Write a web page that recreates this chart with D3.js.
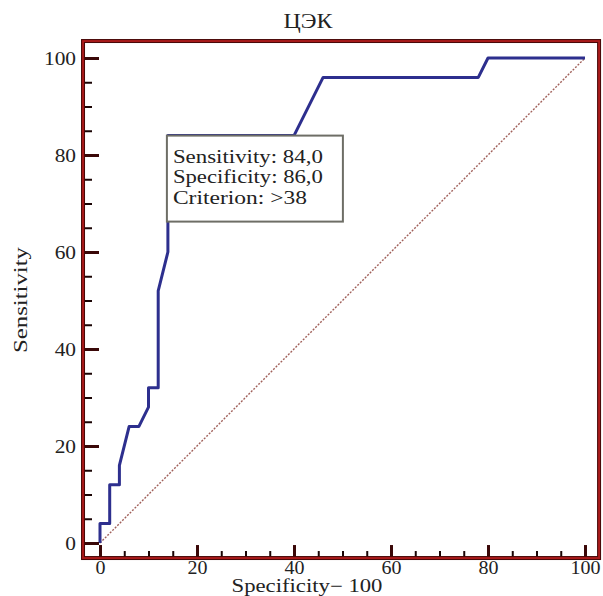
<!DOCTYPE html>
<html>
<head>
<meta charset="utf-8">
<script src="https://cdn.jsdelivr.net/npm/d3@7"></script>
<style>
  body { margin: 0; background: #fff; }
  text { font-family: "Liberation Serif", "Times New Roman", serif; fill: #222; }
</style>
</head>
<body>
<div id="root"></div>
<script>
// ROC curve points: 100 - specificity (x) and sensitivity (y)
const fpr = [0, 0, 2, 2, 4, 4, 6, 8, 10, 10, 12, 12, 14, 14, 40, 46, 78, 80, 100];
const tpr = [0, 4, 4, 12, 12, 16, 24, 24, 28, 32, 32, 52, 60, 84, 84, 96, 96, 100, 100];

const majorTicks = [0, 20, 40, 60, 80, 100];
const minorTicks = [5, 10, 15, 25, 30, 35, 45, 50, 55, 65, 70, 75, 85, 90, 95];

const title = 'ЦЭК';
const xTitle = 'Specificity\u2212 100';
const yTitle = 'Sensitivity';

// optimal cut-off point shown in the info box
const cutoff = { fpr: 14, tpr: 84 };
const boxLines = ['Sensitivity: 84,0', 'Specificity: 86,0', 'Criterion: >38'];

const width = 603, height = 596;

const svg = d3.select('#root').append('svg')
  .attr('width', width)
  .attr('height', height);

const x = d3.scaleLinear().domain([0, 100]).range([100, 585]);
const y = d3.scaleLinear().domain([0, 100]).range([543, 58]);

const frameLeft = x(-3.5), frameRight = x(102.9), frameTop = y(103.5), frameBottom = y(-3.1);

// diagonal reference line
svg.append('line')
  .attr('x1', x(0)).attr('y1', y(0))
  .attr('x2', x(100)).attr('y2', y(100))
  .attr('stroke', '#a0605a')
  .attr('stroke-width', 1.4)
  .attr('stroke-dasharray', '2,1.5');

// ROC curve
const line = d3.line()
  .x((d, i) => x(fpr[i]))
  .y((d, i) => y(tpr[i]));

svg.append('path')
  .datum(fpr)
  .attr('d', line)
  .attr('fill', 'none')
  .attr('stroke', '#2d2f8e')
  .attr('stroke-width', 3)
  .attr('stroke-linejoin', 'round');

// info box at the cut-off point
const bx = x(cutoff.fpr) - 1, by = y(cutoff.tpr);
svg.append('rect')
  .attr('x', bx).attr('y', by)
  .attr('width', 176).attr('height', 86)
  .attr('fill', '#fff')
  .attr('stroke', '#6e6e66')
  .attr('stroke-width', 2);

const boxLengths = [150, 150, 134];
svg.selectAll('.boxText')
  .data(boxLines)
  .join('text')
  .attr('class', 'boxText')
  .attr('x', bx + 6)
  .attr('y', (d, i) => by + 27 + i * 20.5)
  .attr('font-size', 19)
  .attr('textLength', (d, i) => boxLengths[i])
  .attr('lengthAdjust', 'spacingAndGlyphs')
  .text(d => d);

// axes: ticks point inward from the frame
function styleAxis(g, fontSize, lenPerChar) {
  g.select('.domain').remove();
  g.selectAll('.tick line').attr('stroke', '#3a0808').attr('stroke-width', 3);
  g.selectAll('.tick text')
    .attr('fill', '#222')
    .attr('font-size', fontSize)
    .attr('font-family', '"Liberation Serif", serif')
    .attr('textLength', d => String(d).length * lenPerChar)
    .attr('lengthAdjust', 'spacingAndGlyphs');
}

const yMinor = svg.append('g')
  .attr('transform', `translate(${frameLeft},0)`)
  .call(d3.axisLeft(y).tickValues(minorTicks).tickSizeInner(-9).tickSizeOuter(0).tickFormat(''));
yMinor.select('.domain').remove();
yMinor.selectAll('.tick line').attr('stroke', '#1a0505').attr('stroke-width', 2);

const yAxis = svg.append('g')
  .attr('transform', `translate(${frameLeft},0)`)
  .call(d3.axisLeft(y).tickValues(majorTicks).tickSizeInner(-16).tickSizeOuter(0).tickPadding(7));
styleAxis(yAxis, 19, 10.7);

const xMinor = svg.append('g')
  .attr('transform', `translate(0,${frameBottom})`)
  .call(d3.axisBottom(x).tickValues(minorTicks).tickSizeInner(-7).tickSizeOuter(0).tickFormat(''));
xMinor.select('.domain').remove();
xMinor.selectAll('.tick line').attr('stroke', '#1a0505').attr('stroke-width', 2);

const xAxis = svg.append('g')
  .attr('transform', `translate(0,${frameBottom})`)
  .call(d3.axisBottom(x).tickValues(majorTicks).tickSizeInner(-13).tickSizeOuter(0).tickPadding(3));
styleAxis(xAxis, 18, 10);

// frame: dark outline with a red core
svg.append('rect')
  .attr('x', frameLeft).attr('y', frameTop)
  .attr('width', frameRight - frameLeft).attr('height', frameBottom - frameTop)
  .attr('fill', 'none')
  .attr('stroke', '#4a0808')
  .attr('stroke-width', 4);
svg.append('rect')
  .attr('x', frameLeft).attr('y', frameTop)
  .attr('width', frameRight - frameLeft).attr('height', frameBottom - frameTop)
  .attr('fill', 'none')
  .attr('stroke', '#b01c1c')
  .attr('stroke-width', 1.8);

// titles
svg.append('text')
  .attr('x', 308).attr('y', 28)
  .attr('text-anchor', 'middle')
  .attr('font-size', 20)
  .attr('textLength', 49)
  .attr('lengthAdjust', 'spacingAndGlyphs')
  .text(title);

svg.append('text')
  .attr('x', 307).attr('y', 592)
  .attr('text-anchor', 'middle')
  .attr('font-size', 18)
  .attr('textLength', 151)
  .attr('lengthAdjust', 'spacingAndGlyphs')
  .text(xTitle);

svg.append('text')
  .attr('transform', 'translate(27,300) rotate(-90)')
  .attr('text-anchor', 'middle')
  .attr('font-size', 19)
  .attr('textLength', 106)
  .attr('lengthAdjust', 'spacingAndGlyphs')
  .text(yTitle);
</script>
</body>
</html>
